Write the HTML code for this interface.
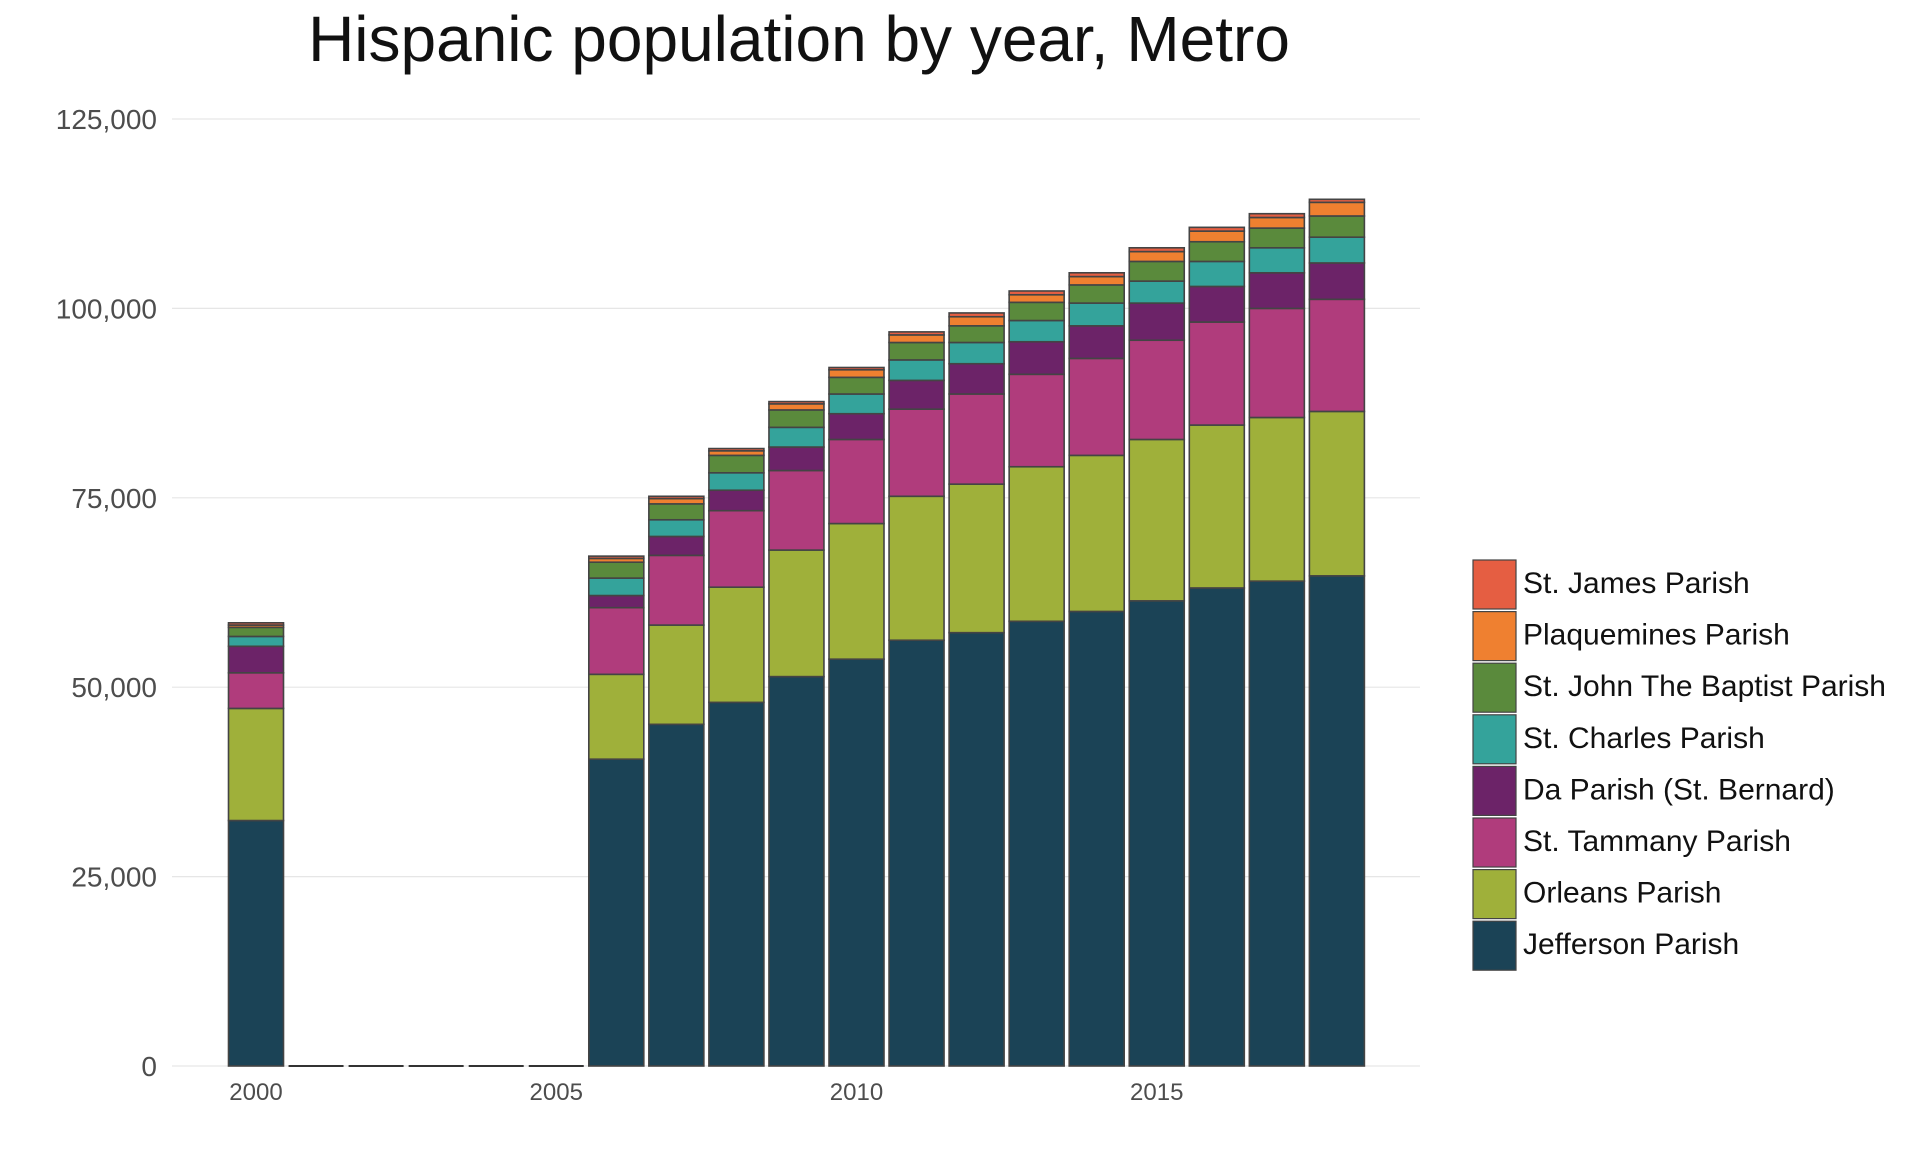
<!DOCTYPE html>
<html><head><meta charset="utf-8"><style>
html,body{margin:0;padding:0;background:#fff;width:1920px;height:1152px;overflow:hidden}
svg{display:block;font-family:"Liberation Sans",sans-serif}
</style></head><body>
<svg id="chart" width="1920" height="1152" viewBox="0 0 1920 1152">
<text x="799" y="61" text-anchor="middle" font-size="64" fill="#111">Hispanic population by year, Metro</text>
<g id="grid"></g>
<g id="yaxis"></g>
<g id="xaxis"></g>
<g id="bars"></g>
<g id="legend"></g>
</svg>
<script>
const years = [2000,2001,2002,2003,2004,2005,2006,2007,2008,2009,2010,2011,2012,2013,2014,2015,2016,2017,2018];
const seriesNames = ["Jefferson Parish","Orleans Parish","St. Tammany Parish","Da Parish (St. Bernard)","St. Charles Parish","St. John The Baptist Parish","Plaquemines Parish","St. James Parish"];
const jefferson = [32400,0,0,0,0,0,40500,45100,48000,51400,53700,56200,57200,58700,60000,61400,63100,64000,64700];
const orleans   = [14800,0,0,0,0,0,11200,13100,15200,16700,17900,19000,19600,20400,20600,21300,21500,21600,21700];
const tammany   = [4700,0,0,0,0,0,8800,9200,10100,10500,11100,11500,11900,12200,12800,13100,13600,14400,14800];
const bernard   = [3500,0,0,0,0,0,1600,2500,2700,3100,3400,3800,4000,4300,4300,4900,4700,4700,4800];
const charles   = [1300,0,0,0,0,0,2300,2200,2300,2600,2600,2700,2800,2800,3000,2900,3300,3300,3400];
const john      = [1200,0,0,0,0,0,2100,2100,2300,2300,2200,2300,2200,2400,2400,2600,2600,2600,2800];
const plaquemines = [300,0,0,0,0,0,500,700,600,800,1000,1000,1200,1000,1100,1300,1400,1400,1800];
const james     = [300,0,0,0,0,0,300,300,300,300,300,400,500,500,500,500,500,500,400];
const yTicks = [0,25000,50000,75000,100000,125000];
const xTickYears = [2000,2005,2010,2015];

const colors = ["#1b4356","#9fb03a","#b03c7c","#6c2368","#34a39b","#5a8a3c","#ef8030","#e55e42"];
const allSeries = [jefferson,orleans,tammany,bernard,charles,john,plaquemines,james];
const NS="http://www.w3.org/2000/svg";
const plotL=172, plotR=1420, y0=1066, y125=119;
const yScale = v => y0 - (v/125000)*(y0-y125);
const step=60.05;
const xScale = yr => 256 + step*(yr-years[0]);
const barW = 55;
function mk(tag, attrs, parent){const e=document.createElementNS(NS,tag);for(const k in attrs)e.setAttribute(k,attrs[k]);parent.appendChild(e);return e;}
const grid=document.getElementById('grid'), yax=document.getElementById('yaxis'), xax=document.getElementById('xaxis'), bars=document.getElementById('bars'), leg=document.getElementById('legend');
yTicks.forEach(t=>{
  const l=mk('line',{x1:plotL,x2:plotR,y1:yScale(t),y2:yScale(t),stroke:"#e6e6e6","stroke-width":1.2},grid);
  
  
  const tx=mk('text',{x:157,y:yScale(t)+10,"text-anchor":"end","font-size":28,fill:"#4d4d4d"},yax);
  tx.textContent=t.toLocaleString('en-US');
  
  
});
xTickYears.forEach(yr=>{
  const tx=mk('text',{x:xScale(yr),y:1100,"text-anchor":"middle","font-size":24,fill:"#4d4d4d"},xax);
  tx.textContent=String(yr);
  
  
});
years.forEach((yr,i)=>{
  let cum=0;
  allSeries.forEach((s,k)=>{
    const v=s[i]; const top=yScale(cum+v), bot=yScale(cum);
    if(v>0){
      const r=mk('rect',{x:xScale(yr)-barW/2,y:top,width:barW,height:bot-top,fill:colors[k],stroke:"#444","stroke-width":1.6},bars);
      
      
    }
    cum+=v;
  });
  if(cum===0){
    const l=mk('line',{x1:xScale(yr)-barW/2,x2:xScale(yr)+barW/2,y1:y0,y2:y0,stroke:"#333","stroke-width":2},bars);
    
    
  }
});
for(let k=7;k>=0;k--){
  const row=7-k; const ty=560+row*51.6;
  const r=mk('rect',{x:1473,y:ty,width:43,height:49,fill:colors[k],stroke:"#444","stroke-width":1.2},leg);
  
  
  const t=mk('text',{x:1523,y:ty+33,"font-size":30,fill:"#111"},leg);
  t.textContent=seriesNames[k];
  
  
}
</script>
</body></html>
